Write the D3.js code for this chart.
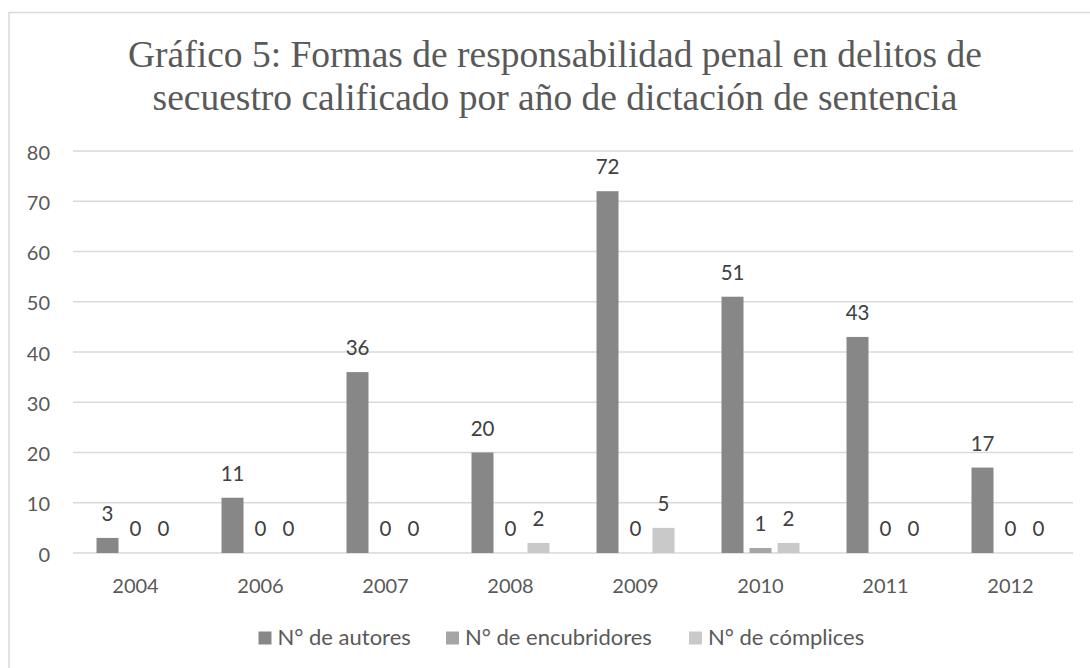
<!DOCTYPE html>
<html><head><meta charset="utf-8">
<script src="https://cdn.jsdelivr.net/npm/d3@7"></script>
<style>body{margin:0;background:#fff}svg{display:block}</style>
</head><body>
<svg id="c" width="1090" height="668"></svg>
<script>
const categories = ["2004","2006","2007","2008","2009","2010","2011","2012"];
const seriesNames = ["N° de autores","N° de encubridores","N° de cómplices"];
const autores = [3,11,36,20,72,51,43,17];
const encubridores = [0,0,0,0,0,1,0,0];
const complices = [0,0,0,2,5,2,0,0];
const yTicks = [0,10,20,30,40,50,60,70,80];
const colors = ["#878787","#a5a5a5","#c9c9c9"];
const titleLines = ["Gráfico 5: Formas de responsabilidad penal en delitos de","secuestro calificado por año de dictación de sentencia"];

const series = [autores, encubridores, complices];
const svg = d3.select("#c");
const txt = "#595959";
const font = "Lato, 'Open Sans', sans-serif";

svg.append("rect").attr("x",9).attr("y",12.5).attr("width",1100).attr("height",700)
  .attr("fill","#fff").attr("stroke","#d9d9d9").attr("stroke-width",1.5);

const tt = svg.append("text").attr("text-anchor","middle").attr("fill",txt)
  .attr("font-family","'Liberation Serif','Times New Roman',serif").attr("font-size",37.5);
titleLines.forEach((l,i)=>tt.append("tspan").attr("x",555).attr("y",67+i*43).text(l));

const x0 = d3.scaleBand().domain(categories).range([73,1073]).paddingInner(0.376).paddingOuter(0.188);
const x1 = d3.scaleBand().domain(d3.range(3)).range([0,x0.bandwidth()]).paddingInner(0.214);
const y = d3.scaleLinear().domain([0,80]).range([553,151]);

const grid = svg.append("g");
grid.selectAll("line").data(yTicks).join("line")
  .attr("x1",73).attr("x2",1073).attr("y1",d=>y(d)).attr("y2",d=>y(d))
  .attr("stroke","#d9d9d9").attr("stroke-width",1.5);

const yAxis = svg.append("g").attr("transform","translate(73,0)")
  .call(d3.axisLeft(y).tickValues(yTicks).tickSize(0).tickPadding(23));
yAxis.select(".domain").remove();
yAxis.selectAll("text").attr("font-family",font).attr("font-size",20).attr("fill",txt).attr("dy","0.4em");

const xAxis = svg.append("g").attr("transform","translate(0,553)")
  .call(d3.axisBottom(x0).tickSize(0));
xAxis.select(".domain").remove();
xAxis.selectAll("text").attr("font-family",font).attr("font-size",20).attr("fill",txt)
  .attr("dy",null).attr("y",40);

const groups = svg.append("g").selectAll("g").data(categories).join("g")
  .attr("transform",c=>`translate(${x0(c)},0)`);
groups.each(function(c,ci){
  const g = d3.select(this);
  series.forEach((s,si)=>{
    const v = s[ci];
    if (v>0) g.append("rect").attr("x",x1(si)).attr("width",x1.bandwidth())
      .attr("y",y(v)).attr("height",y(0)-y(v)).attr("fill",colors[si]);
    g.append("text").attr("x",x1(si)+x1.bandwidth()/2).attr("y",y(v)-17)
      .attr("text-anchor","middle").attr("font-family",font).attr("font-size",20.5)
      .attr("fill","#404040").text(v);
  });
});

const legX = [258.5,446,689];
const leg = svg.append("g");
seriesNames.forEach((n,i)=>{
  leg.append("rect").attr("x",legX[i]).attr("y",631.5).attr("width",13).attr("height",13).attr("fill",colors[i]);
  leg.append("text").attr("x",legX[i]+19).attr("y",645).attr("font-family",font).attr("font-size",22)
    .attr("fill",txt).text(n);
});
</script>
</body></html>
